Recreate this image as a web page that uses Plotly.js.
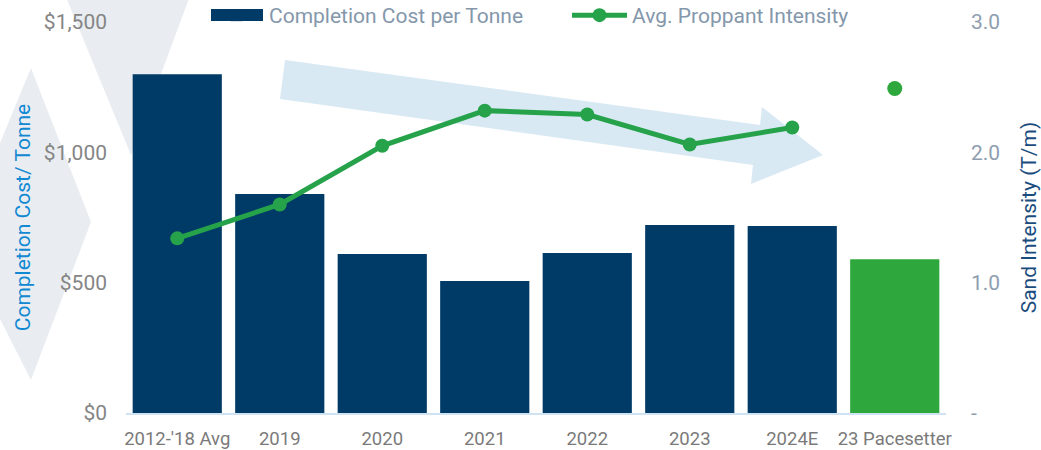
<!DOCTYPE html>
<html>
<head>
<meta charset="utf-8">
<script src="https://cdn.plot.ly/plotly-3.0.1.min.js"></script>
<style>html,body{margin:0;padding:0;background:#fff;}#chart{width:1041px;height:450px;}</style>
</head>
<body>
<div id="chart"></div>
<script>
// ---- data ----
const categories = ["2012-'18 Avg", "2019", "2020", "2021", "2022", "2023", "2024E", "23 Pacesetter"];
const costPerTonne = [1300, 840, 610, 506, 614, 721, 717, 590];
const proppantIntensity = [1.34, 1.60, 2.05, 2.32, 2.29, 2.06, 2.19, null];
const pacesetterIntensity = [null, null, null, null, null, null, null, 2.49];
const leftTickVals = [0, 500, 1000, 1500];
const leftTickText = ["$0", "$500", "$1,000", "$1,500"];
const rightTickVals = [0, 1, 2, 3];
const rightTickText = ["-", "1.0", "2.0", "3.0"];

// ---- styles ----
const NAVY = "#003a66";
const GREEN = "#2ea83c";
const LINE_GREEN = "#25a24a";
const barColors = categories.map((c, i) => i === categories.length - 1 ? GREEN : NAVY);

// plot area geometry in pixels (for decorative background shapes only)
const W = 1041, H = 450;
const M = {l: 126, r: 95, t: 22, b: 37, autoexpand: false};
const PW = W - M.l - M.r, PH = H - M.t - M.b;
function px(x) { return (x - M.l) / PW; }
function py(y) { return (H - M.b - y) / PH; }
function poly(pts) {
  return pts.map((p, i) => (i ? "L" : "M") + px(p[0]).toFixed(4) + "," + py(p[1]).toFixed(4)).join(" ") + " Z";
}
const GRAY_DECOR = "#e9edf1";
const shapes = [
  {type: "path", xref: "paper", yref: "paper", layer: "below", line: {width: 0}, fillcolor: GRAY_DECOR,
   path: poly([[61, -15], [194, -15], [131, 155]])},
  {type: "path", xref: "paper", yref: "paper", layer: "below", line: {width: 0}, fillcolor: GRAY_DECOR,
   path: poly([[31, 68], [91, 222], [31, 380], [-40, 240]])},
  {type: "path", xref: "paper", yref: "paper", layer: "below", line: {width: 0}, fillcolor: "#d8e9f4",
   path: poly([[285, 60], [760, 125], [762, 107], [823, 155], [751, 184], [753, 165], [280, 99]])},
  // wide legend swatch for the bar series
  {type: "rect", xref: "paper", yref: "paper", layer: "above", line: {width: 0}, fillcolor: NAVY,
   x0: px(211), x1: px(263), y0: py(21), y1: py(9)}
];

const traces = [
  {
    type: "bar", name: "Completion Cost per Tonne",
    x: categories, y: costPerTonne,
    marker: {color: barColors, line: {width: 0}},
    yaxis: "y", legend: "legend"
  },
  {
    type: "scatter", mode: "lines+markers", name: "Avg. Proppant Intensity",
    x: categories, y: proppantIntensity,
    line: {color: LINE_GREEN, width: 5},
    marker: {color: LINE_GREEN, size: 14},
    yaxis: "y2", connectgaps: false, legend: "legend2"
  },
  {
    type: "scatter", mode: "markers", name: "23 Pacesetter Intensity", showlegend: false,
    x: categories, y: pacesetterIntensity,
    marker: {color: GREEN, size: 15},
    yaxis: "y2"
  }
];

const legendCommon = {
  orientation: "h", xanchor: "left", yref: "paper", yanchor: "top", y: py(-5),
  font: {size: 21, color: "#8497ab"}, itemwidth: 55, bgcolor: "rgba(0,0,0,0)"
};

const layout = {
  width: W, height: H,
  margin: M,
  paper_bgcolor: "#ffffff", plot_bgcolor: "rgba(0,0,0,0)",
  font: {family: "Roboto, 'Open Sans', sans-serif", size: 18, color: "#808080"},
  bargap: 0.13,
  showlegend: true,
  legend: Object.assign({}, legendCommon, {x: px(204)}),
  legend2: Object.assign({}, legendCommon, {x: px(567)}),
  xaxis: {
    type: "category", showgrid: false, zeroline: false,
    showline: true, linecolor: "#cfe3f3", linewidth: 2,
    ticks: "", tickfont: {size: 18.5, color: "#7a7a7a"}, ticklabelstandoff: 8
  },
  yaxis: {
    range: [0, 1500], tickvals: leftTickVals, ticktext: leftTickText,
    showgrid: false, zeroline: false, showline: false, ticks: "",
    tickfont: {size: 21, color: "#858585"}, ticklabelstandoff: 18,
    title: {text: "Completion Cost/ Tonne", font: {size: 21, color: "#1088d2"}, standoff: 7}
  },
  yaxis2: {
    overlaying: "y", side: "right",
    range: [0, 3], tickvals: rightTickVals, ticktext: rightTickText,
    showgrid: false, zeroline: false, showline: false, ticks: "",
    tickfont: {size: 21, color: "#8e9eb0"}, ticklabelstandoff: 24,
    title: {text: "Sand Intensity (T/m)", font: {size: 21, color: "#1a4c7e"}, standoff: 22}
  },
  shapes: shapes
};

Plotly.newPlot("chart", traces, layout, {displayModeBar: false, staticPlot: true});
</script>
</body>
</html>
